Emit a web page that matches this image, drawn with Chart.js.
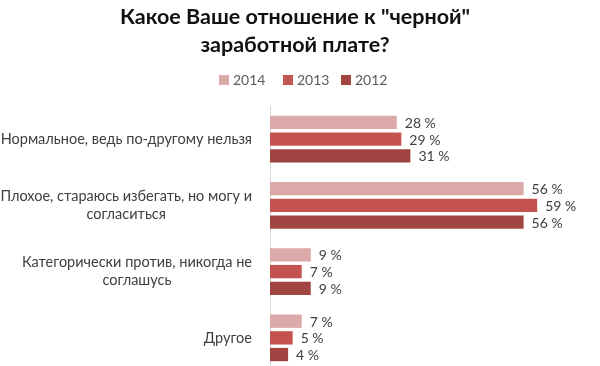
<!DOCTYPE html>
<html><head><meta charset="utf-8">
<script src="https://cdn.jsdelivr.net/npm/chart.js@4"></script>
<style>html,body{margin:0;padding:0;overflow:hidden;background:#fff}#wrap{width:600px;height:372px;position:relative}</style>
</head><body><div id="wrap"><canvas id="c"></canvas></div>
<script>
const titleLines = ['Какое Ваше отношение к "черной"', 'заработной плате?'];
const categories = [
  ["Нормальное, ведь по-другому нельзя"],
  ["Плохое, стараюсь избегать, но могу и", "согласиться"],
  ["Категорически против, никогда не", "соглашусь"],
  ["Другое"]
];
const years = ["2014", "2013", "2012"];
const values2014 = [28, 56, 9, 7];
const values2013 = [29, 59, 7, 5];
const values2012 = [31, 56, 9, 4];
const colors = ["#DBA9A8", "#C4524F", "#A04442"];
const FONT = "Lato, 'Open Sans', sans-serif";

const decor = {
  id: 'decor',
  afterDraw(chart) {
    const ctx = chart.ctx;
    ctx.save();
    // title
    ctx.fillStyle = '#111';
    ctx.font = "bold 21.5px " + FONT;
    ctx.textAlign = 'center';
    ctx.textBaseline = 'middle';
    ctx.fillText(titleLines[0], 295, 17);
    ctx.fillText(titleLines[1], 295, 45);
    // legend
    ctx.font = "14px " + FONT;
    ctx.textAlign = 'left';
    const lx = [219, 283, 341];
    chart.data.datasets.forEach((ds, i) => {
      ctx.fillStyle = ds.backgroundColor;
      ctx.fillRect(lx[i], 75, 10, 10);
      ctx.fillStyle = '#595959';
      ctx.fillText(ds.label, lx[i] + 14, 80.5);
    });
    // category labels
    const ys = chart.scales.y;
    ctx.fillStyle = '#404040';
    ctx.font = "14.5px " + FONT;
    ctx.textAlign = 'center';
    const right = 252, lh = 18;
    chart.data.labels.forEach((lab, i) => {
      const cy = ys.getPixelForValue(i);
      const w = Math.max(...lab.map(t => ctx.measureText(t).width));
      const cx = right - w / 2;
      lab.forEach((t, k) => {
        ctx.fillText(t, cx, cy + (k - (lab.length - 1) / 2) * lh);
      });
    });
    // value labels
    ctx.font = "14px " + FONT;
    ctx.textAlign = 'left';
    ctx.fillStyle = '#404040';
    chart.data.datasets.forEach((ds, i) => {
      const meta = chart.getDatasetMeta(i);
      meta.data.forEach((el, j) => {
        ctx.fillText(ds.data[j] + ' %', el.x + 8, el.y + 1);
      });
    });
    ctx.restore();
  }
};

new Chart(document.getElementById('c'), {
  type: 'bar',
  data: {
    labels: categories,
    datasets: [
      { label: years[0], data: values2014, backgroundColor: colors[0] },
      { label: years[1], data: values2013, backgroundColor: colors[1] },
      { label: years[2], data: values2012, backgroundColor: colors[2] }
    ]
  },
  options: {
    indexAxis: 'y',
    responsive: true,
    maintainAspectRatio: false,
    animation: false,
    layout: { padding: { top: 106, right: 13, bottom: 1, left: 0 } },
    datasets: { bar: { barPercentage: 0.8, categoryPercentage: 0.755 } },
    plugins: { legend: { display: false }, title: { display: false }, tooltip: { enabled: false } },
    scales: {
      x: { display: false, min: 0, max: 70 },
      y: {
        ticks: { display: false },
        grid: { display: false },
        border: { display: true, color: '#D9D9D9', width: 1 },
        afterFit(s) { s.width = 270; }
      }
    }
  },
  plugins: [decor]
});
</script>
</body></html>
